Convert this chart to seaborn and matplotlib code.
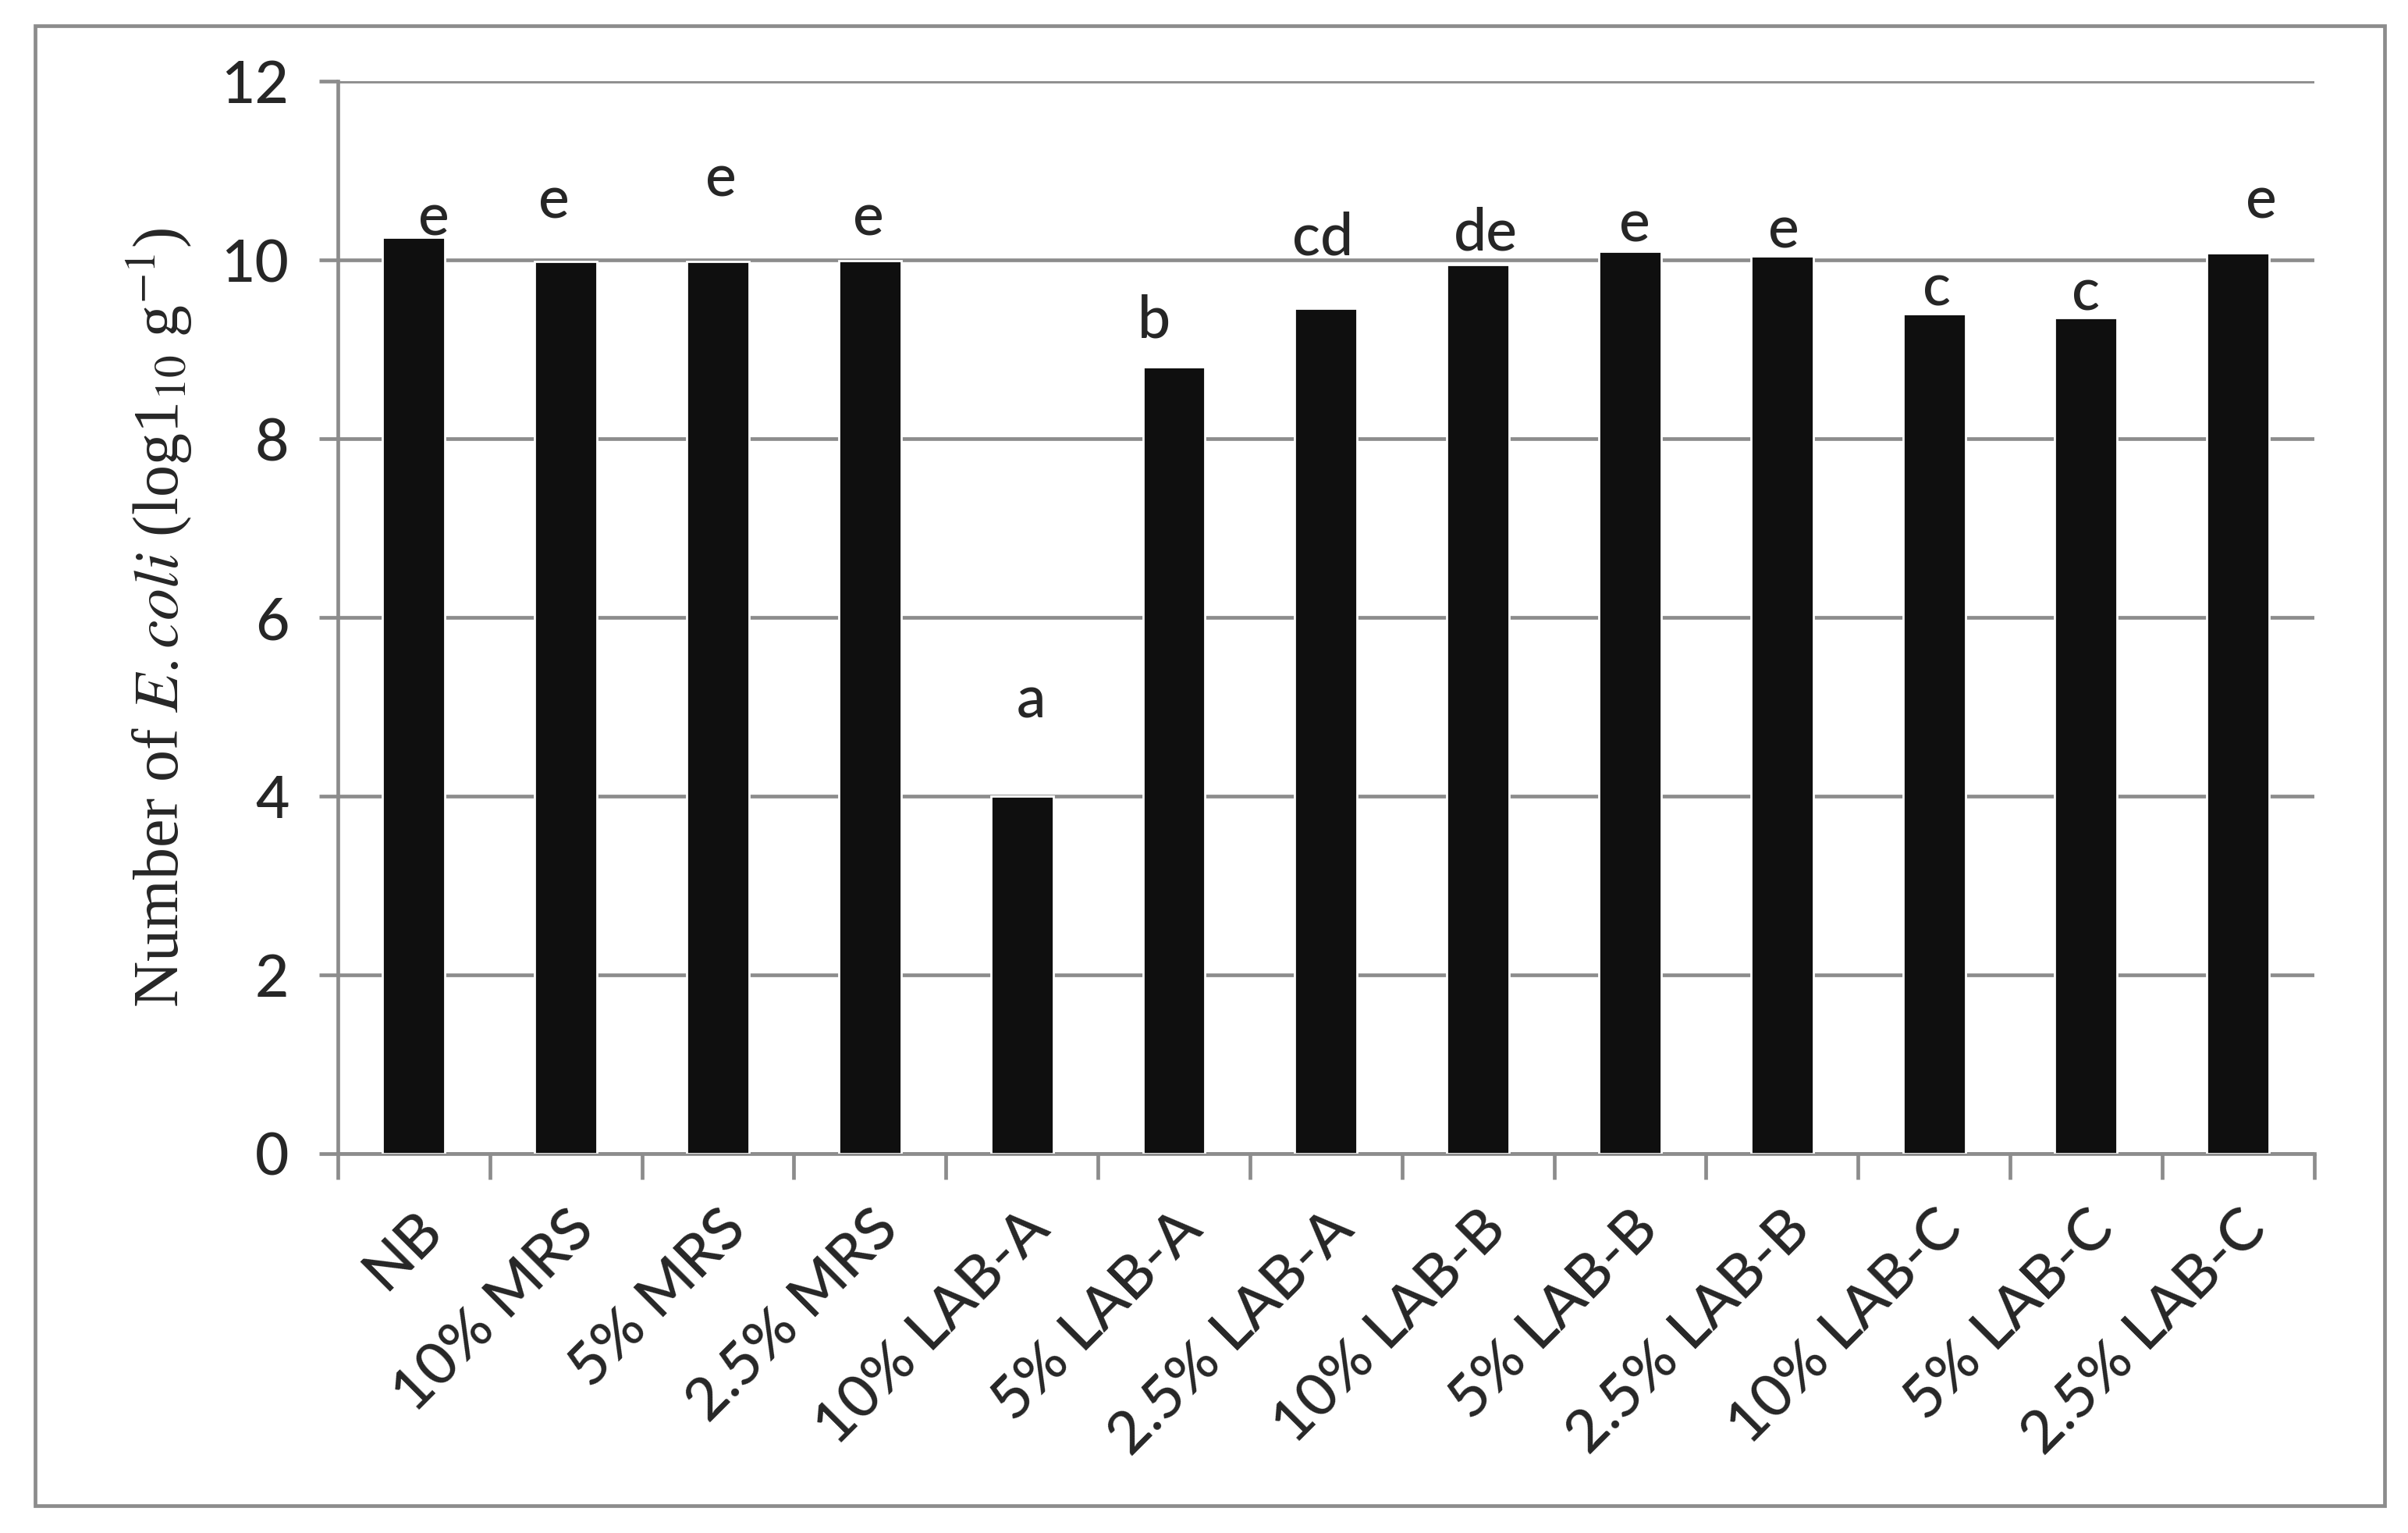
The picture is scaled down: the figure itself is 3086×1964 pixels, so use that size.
import matplotlib
matplotlib.use("Agg")
import matplotlib.pyplot as plt
import seaborn as sns
import pandas as pd

# bar data
treatments = ["NB", "10% MRS", "5% MRS", "2.5% MRS", "10% LAB-A", "5% LAB-A", "2.5% LAB-A",
              "10% LAB-B", "5% LAB-B", "2.5% LAB-B", "10% LAB-C", "5% LAB-C", "2.5% LAB-C"]
log_counts = [10.25, 9.98, 9.98, 9.99, 4.0, 8.8, 9.46, 9.95, 10.1, 10.04, 9.4, 9.35, 10.08]
groups = ["e", "e", "e", "e", "a", "b", "cd", "de", "e", "e", "c", "c", "e"]

# where the significance letters sit (baseline, in data units) and their x shift
letter_y = [10.28, 10.47, 10.71, 10.28, 4.88, 9.13, 10.06, 10.11, 10.21, 10.14, 9.49, 9.44, 10.47]
letter_dx = [0.13, -0.08, 0.02, -0.01, 0.06, -0.13, -0.02, 0.05, 0.03, 0.01, 0.02, 0.0, 0.15]

df = pd.DataFrame({"treatment": treatments, "count": log_counts})

sns.set_style("white")
plt.rcParams["font.family"] = ["Lato", "DejaVu Sans"]
plt.rcParams["font.weight"] = "medium"
plt.rcParams["mathtext.fontset"] = "stix"

grey = "#8c8c8c"
fig = plt.figure(figsize=(15.43, 9.82), dpi=200)
ax = fig.add_axes([0.1403, 0.2475, 0.8207, 0.6995])

sns.barplot(data=df, x="treatment", y="count", color="#0f0f0f", saturation=1,
            width=0.41, ax=ax, zorder=3)

ax.set_ylim(0, 12)
ax.set_xlim(-0.5, len(treatments) - 0.5)
ax.set_yticks(range(0, 13, 2))
ax.yaxis.grid(True, color=grey, linewidth=1.7, zorder=0)
ax.set_axisbelow(True)

for side in ["top", "right"]:
    ax.spines[side].set_visible(False)
for side in ["left", "bottom"]:
    ax.spines[side].set_color(grey)
    ax.spines[side].set_linewidth(1.7)

ax.tick_params(axis="y", length=8.5, width=1.7, color=grey, labelsize=27, pad=14, left=True)
ax.set_xticks([i - 0.5 for i in range(len(treatments) + 1)], minor=True)
ax.set_xticks(range(len(treatments)))
ax.set_xticklabels(treatments, rotation=45, ha="right", rotation_mode="anchor")
ax.tick_params(axis="x", which="major", length=0, labelsize=27.5, pad=22)
ax.tick_params(axis="x", which="minor", length=12, width=1.7, color=grey, bottom=True)

for i, (g, y, dx) in enumerate(zip(groups, letter_y, letter_dx)):
    ax.text(i + dx, y, g, ha="center", va="baseline", fontsize=27, zorder=4)

ax.set_xlabel("")
ax.set_ylabel(r"Number of $\mathit{E{.}coli}$ (log1$_{10}$ g$^{-1}$)",
              fontsize=29.5, fontweight="normal", family=["Liberation Serif", "DejaVu Serif"])
ax.yaxis.set_label_coords(-0.073, 0.5)

# outer chart frame
frame = plt.Rectangle((0.0146, 0.0178), 0.9757, 0.9655, transform=fig.transFigure,
                      fill=False, edgecolor=grey, linewidth=1.7)
fig.patches.append(frame)

fig.savefig("out.png", dpi=200, facecolor="white")
